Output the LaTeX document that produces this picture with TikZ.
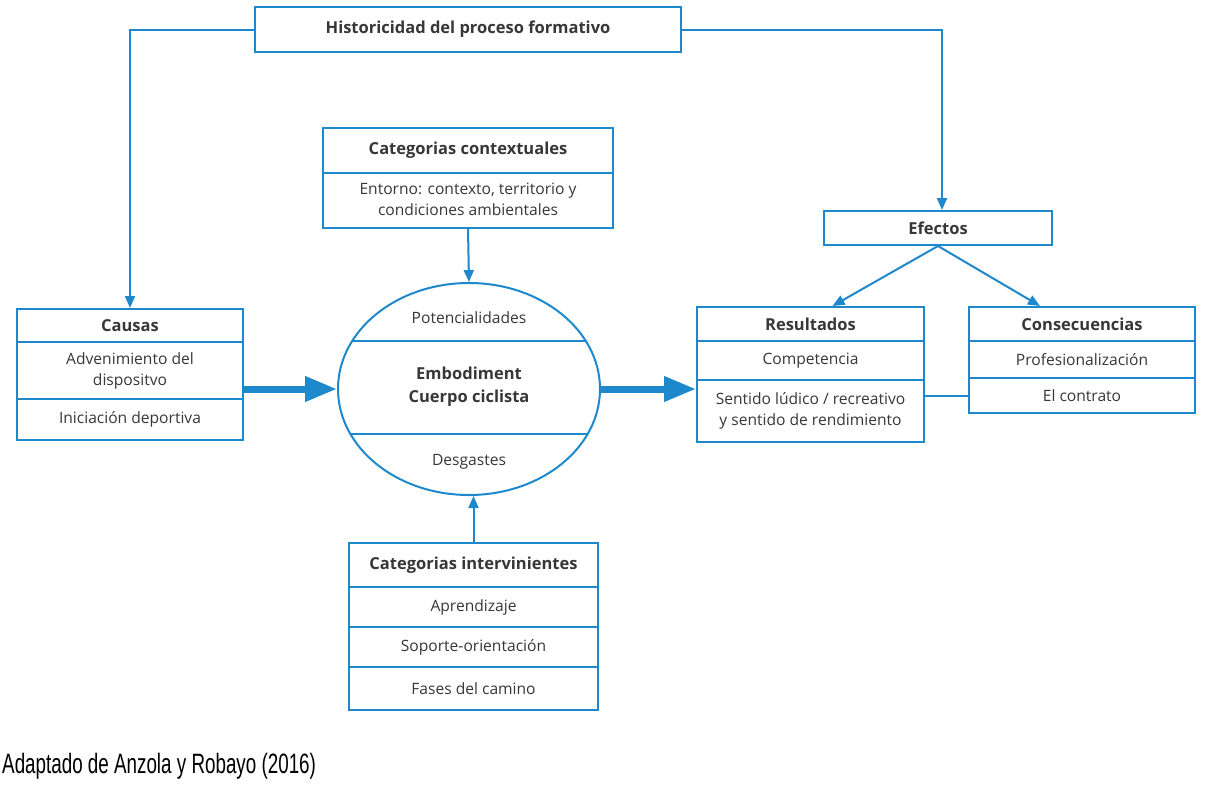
\documentclass[tikz,border=0pt]{standalone}
\usepackage{fontspec}
\usepackage{graphicx}
\setmainfont{Open Sans}
\newfontfamily\arialfont{Liberation Sans}
\usetikzlibrary{arrows.meta}
\usetikzlibrary{shapes.geometric}
\definecolor{azul}{RGB}{30,136,204}
\definecolor{tinta}{RGB}{55,55,55}

\begin{document}
\begin{tikzpicture}[x=1pt,y=-1pt,
		caja/.style={draw=azul,line width=2pt,fill=white,inner sep=0pt,text=tinta,font=\fontsize{15.6}{21}\selectfont},
		titulo/.style={caja,font=\fontsize{16.5}{21}\selectfont\bfseries},
		texto/.style={inner sep=0pt,text=tinta,font=\fontsize{15.6}{21}\selectfont},
		flecha/.style={draw=azul,line width=2pt,-{Triangle[length=12pt,width=10pt]}},
		flechona/.style={draw=azul,line width=7pt,-{Triangle[length=32pt,width=24pt]}}]
		\useasboundingbox (0,0) rectangle (1217,785);
		
		\node[titulo,minimum width=426pt,minimum height=45pt] (hist) at (468,29.5){Historicidad del proceso formativo};
		
		\node[titulo,minimum width=290pt,minimum height=45pt] (contexto) at (468,150.5){Categorias contextuales};
		\node[caja,minimum width=290pt,minimum height=55pt] (contexto1) at (468,200.5){\begin{tabular}{c}Entorno: contexto, territorio y\\condiciones ambientales\end{tabular}};
		
		\node[titulo,minimum width=226pt,minimum height=33pt] (causas) at (130,325.5){Causas};
		\node[caja,minimum width=226pt,minimum height=57pt] (causas1) at (130,370.5){\begin{tabular}{c}Advenimiento del\\dispositvo\end{tabular}};
		\node[caja,minimum width=226pt,minimum height=41pt] (causas2) at (130,419.5){Iniciación deportiva};
		
		\node[draw=azul,line width=2pt,fill=white,ellipse,inner sep=0pt,minimum width=262pt,minimum height=212pt] (cuerpo) at (469,389){};
		\begin{scope}
			\clip (469,389) ellipse [x radius=131, y radius=106];
			\draw[azul,line width=2pt] (330,341) -- (610,341);
			\draw[azul,line width=2pt] (330,434) -- (610,434);
		\end{scope}
		\node[texto] (poten) at (469,318){Potencialidades};
		\node[texto,font=\fontsize{16.5}{23}\selectfont\bfseries] (embod) at (469,386){\begin{tabular}{c}Embodiment\\Cuerpo ciclista\end{tabular}};
		\node[texto] (desgas) at (469,462){Desgastes};
		
		\node[titulo,minimum width=249pt,minimum height=44pt] (interv) at (473.5,565){Categorias intervinientes};
		\node[caja,minimum width=249pt,minimum height=40pt] (interv1) at (473.5,607){Aprendizaje};
		\node[caja,minimum width=249pt,minimum height=40pt] (interv2) at (473.5,647){Soporte-orientación};
		\node[caja,minimum width=249pt,minimum height=43pt] (interv3) at (473.5,688.5){Fases del camino};
		
		\node[titulo,minimum width=228pt,minimum height=34pt] (efectos) at (938,228){Efectos};
		
		\node[titulo,minimum width=227pt,minimum height=34pt] (result) at (810.5,324){Resultados};
		\node[caja,minimum width=227pt,minimum height=39pt] (result1) at (810.5,360.5){Competencia};
		\node[caja,minimum width=227pt,minimum height=62pt] (result2) at (810.5,411){\begin{tabular}{c}Sentido lúdico / recreativo\\y sentido de rendimiento\end{tabular}};
		
		\node[titulo,minimum width=226pt,minimum height=34pt] (conse) at (1082,324){Consecuencias};
		\node[caja,minimum width=226pt,minimum height=37pt] (conse1) at (1082,359.5){Profesionalización};
		\node[caja,minimum width=226pt,minimum height=35pt] (conse2) at (1082,395.5){El contrato};
		
		\draw[flecha] (hist.west) -| (causas.north);
		\draw[flecha] (hist.east) -| ([xshift=4pt]efectos.north);
		\draw[flecha] (contexto1.south) -- (cuerpo.north);
		\draw[flecha] (interv.north) -- (cuerpo.south -| interv.north);
		\draw[flechona] (causas1.east |- cuerpo.west) -- (cuerpo.west);
		\draw[flechona] (cuerpo.east) -- (cuerpo.east -| result.west);
		\draw[flecha] (efectos.south) -- ([xshift=22pt]result.north);
		\draw[flecha] (efectos.south) -- ([xshift=-42pt]conse.north);
		\draw[azul,line width=2pt] (conse2.west) -- (conse2.west -| result2.east);
		
		\node[anchor=base west,inner sep=0pt,font=\arialfont\fontsize{28}{28}\selectfont] (fuente) at (2,773){\scalebox{0.672}[1]{Adaptado de Anzola y Robayo (2016)}};
	\end{tikzpicture}
\end{document}
